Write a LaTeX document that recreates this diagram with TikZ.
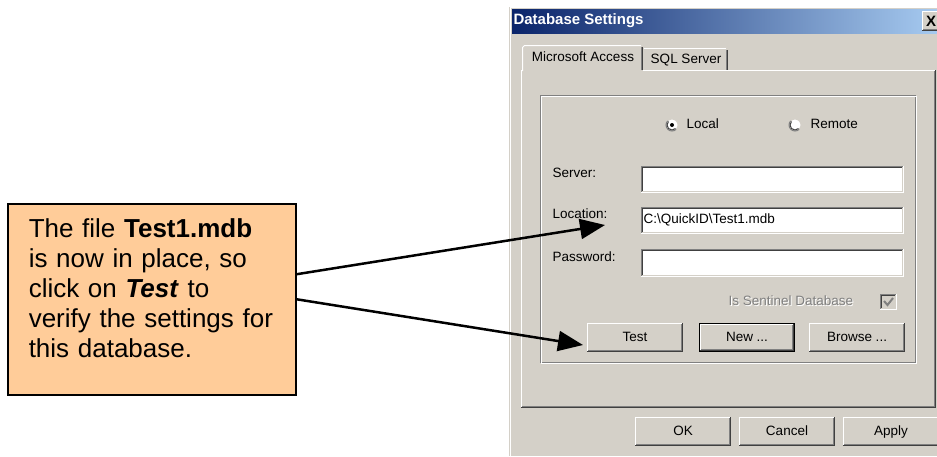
\documentclass[tikz,border=0pt]{standalone}
\usepackage{fontspec}
\setmainfont{Liberation Sans}
\usetikzlibrary{arrows.meta}
\definecolor{dlgbg}{HTML}{D4D0C8}
\definecolor{tbdark}{HTML}{0A246A}
\definecolor{tblight}{HTML}{A6CAF0}
\definecolor{callfill}{HTML}{FFCC99}
\definecolor{shadowgray}{HTML}{808080}
\definecolor{dkshadow}{HTML}{404040}
\newcommand\rsRaised[4]{%
  \fill[dlgbg] (#1,#2) rectangle (#3,#4);
  \draw[white] (#1+0.5,#4-1) -- (#1+0.5,#2+0.5) -- (#3-1,#2+0.5);
  \draw[dkshadow] (#1,#4-0.5) -- (#3-0.5,#4-0.5) -- (#3-0.5,#2);
  \draw[shadowgray] (#1+1,#4-1.5) -- (#3-1.5,#4-1.5) -- (#3-1.5,#2+1);
}
\newcommand\rsSunken[5]{%
  \fill[#5] (#1,#2) rectangle (#3,#4);
  \draw[shadowgray] (#1+0.5,#4-1) -- (#1+0.5,#2+0.5) -- (#3-1,#2+0.5);
  \draw[dkshadow] (#1+1.5,#4-2) -- (#1+1.5,#2+1.5) -- (#3-2,#2+1.5);
  \draw[white] (#1,#4-0.5) -- (#3-0.5,#4-0.5) -- (#3-0.5,#2);
  \draw[dlgbg] (#1+1,#4-1.5) -- (#3-1.5,#4-1.5) -- (#3-1.5,#2+1);
}
\newcommand\rsRadio[2]{%
  \fill[white] (#1,#2) circle (6);
  \draw[shadowgray] (#1,#2) ++(45:6) arc (45:225:6);
  \draw[dkshadow] (#1,#2) ++(45:5) arc (45:225:5);
  \draw[dlgbg] (#1,#2) ++(45:6) arc (45:-135:6);
}
\begin{document}
\begin{tikzpicture}[x=1pt,y=-1pt,line width=1pt,
  ui/.style={font=\fontsize{13.5}{16}\selectfont, inner sep=0pt, text=black,
    text height=9.8pt, text depth=2.8pt},
  uigray/.style={ui, text=shadowgray},
  callout/.style={draw=black, fill=callfill, line width=1.5pt, anchor=north west,
    align=left, text width=246pt, inner xsep=21pt, inner ysep=0pt,
    text height=34pt, text depth=157pt, font=\fontsize{26}{30}\selectfont},
  pointer/.style={line width=2.5pt, -{Triangle[length=25pt,width=20pt]}}]
\useasboundingbox (0,0) rectangle (937,456);

% window
\fill[dlgbg] (509,7) rectangle (937,456);
\draw[white] (510.5,456) -- (510.5,7.5) -- (937,7.5);
% title bar
\shade[left color=tbdark, right color=tblight] (512,9) rectangle (937,33);
\node[anchor=west, inner sep=0pt, text=white, font=\fontsize{15}{18}\selectfont\bfseries] (title) at (513,21) {Database Settings};
\rsRaised{922}{11}{939}{31}
\node[inner sep=0pt, font=\fontsize{15}{18}\selectfont\bfseries] (closex) at (931,21) {X};

% tab panel
\draw[white] (521.5,408) -- (521.5,70.5) -- (522,70.5);
\draw[white] (643,70.5) -- (935,70.5);
\draw[dkshadow] (521,407.5) -- (935.5,407.5) -- (935.5,70);
\draw[shadowgray] (522,406.5) -- (934.5,406.5) -- (934.5,71);
% active tab
\draw[white] (522.5,71) -- (522.5,47.5) -- (524.5,45.5) -- (641,45.5);
\draw[dkshadow] (642.5,47) -- (642.5,70);
\draw[shadowgray] (641.5,47) -- (641.5,70);
\node[ui] (tabaccess) at (583,58) {Microsoft Access};
% inactive tab
\draw[white] (644,48.5) -- (726,48.5);
\draw[dkshadow] (727.5,50) -- (727.5,70);
\draw[shadowgray] (726.5,50) -- (726.5,70);
\node[ui] (tabsql) at (686,60) {SQL Server};

% group box
\draw[shadowgray] (540.5,95.5) rectangle (915.5,362.5);
\draw[white] (541.5,96.5) rectangle (916.5,363.5);

% radio buttons
\rsRadio{672}{125}
\fill[black] (672,125) circle (2);
\node[ui, anchor=west] (local) at (686,125) {Local};
\rsRadio{795}{125}
\node[ui, anchor=west] (remote) at (810,125) {Remote};

% labels and fields
\node[ui, anchor=west] (lserver) at (552,174) {Server:};
\node[ui, anchor=west] (llocation) at (552,215) {Location:};
\node[ui, anchor=west] (lpassword) at (552,258) {Password:};
\rsSunken{641}{166}{904}{193}{white}
\rsSunken{641}{207}{904}{234}{white}
\rsSunken{641}{249}{904}{277}{white}
\node[ui, anchor=west] (flocation) at (643,220) {C:\textbackslash QuickID\textbackslash Test1.mdb};

% sentinel
\node[ui, anchor=west, text=white] at (729,303) {Is Sentinel Database};
\node[uigray, anchor=west] (sentinel) at (728,302) {Is Sentinel Database};
\rsSunken{880}{294}{897}{310}{dlgbg}
\draw[shadowgray, line width=2pt] (884,301) -- (887.5,305) -- (893,298);

% buttons
\rsRaised{587}{323}{683}{352}
\node[ui] (test) at (635,337.5) {Test};
\draw[black] (699.5,323.5) rectangle (794.5,351.5);
\rsRaised{700}{324}{794}{351}
\node[ui] (new) at (747,337.5) {New ...};
\rsRaised{809}{323}{905}{352}
\node[ui] (browse) at (857,337.5) {Browse ...};

\rsRaised{635}{417}{731}{446}
\node[ui] (ok) at (683,431.5) {OK};
\rsRaised{739}{417}{835}{446}
\node[ui] (cancel) at (787,431.5) {Cancel};
\rsRaised{843}{417}{939}{446}
\node[ui] (apply) at (891,431.5) {Apply};

% callout
\node[callout] (note) at (7,203) {The file \textbf{Test1.mdb}\\
is now in place, so\\
click on \textbf{\textit{Test}} to\\
verify the settings for\\
this database.};

\coordinate (loctip) at (605,225);
\coordinate (testtip) at (583,345);
\draw[pointer] ([yshift=25pt]note.east) -- (loctip);
\draw[pointer] (note.east) -- (testtip);
\end{tikzpicture}
\end{document}
